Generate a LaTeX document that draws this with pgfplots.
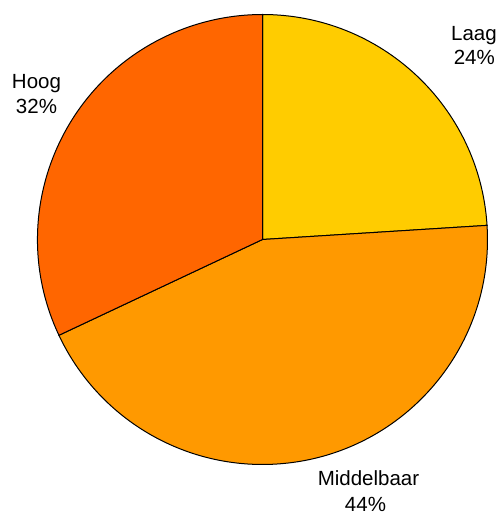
\documentclass[border=0pt]{standalone}
\usepackage{pgfplots}
\usepackage{pgfplotstable}
\pgfplotsset{compat=1.18}
\usepackage{fontspec}
\setmainfont{Liberation Sans}
\definecolor{laag}{HTML}{FFCC00}
\definecolor{midden}{HTML}{FF9900}
\definecolor{hoog}{HTML}{FF6600}

\pgfplotstableread{
label pct
Laag 24
Middelbaar 44
Hoog 32
}\piedata

% slice values and angles (clockwise from the top)
\pgfplotstablegetelem{0}{pct}\of\piedata \edef\pa{\pgfplotsretval}
\pgfplotstablegetelem{1}{pct}\of\piedata \edef\pb{\pgfplotsretval}
\pgfplotstablegetelem{2}{pct}\of\piedata \edef\pc{\pgfplotsretval}
\pgfmathsetmacro\angA{90-3.6*\pa}
\pgfmathsetmacro\angB{\angA-3.6*\pb}
\pgfmathsetmacro\angC{\angB-3.6*\pc}

\begin{document}
\begin{tikzpicture}[lbl/.style={inner sep=0pt, font=\fontsize{20.5}{24}\selectfont}]
\begin{axis}[
  name=pie,
  scale only axis,
  width=500pt, height=515pt,
  xmin=0, xmax=500, ymin=0, ymax=515,
  hide axis,
  clip=false,
]
\addplot[draw=none] coordinates {(0,0) (500,515)};
\filldraw[fill=laag, draw=black, line width=1pt]
  (axis cs:262.5,275.5) -- ++(90:225pt) arc[start angle=90, end angle=\angA, radius=225pt] -- cycle;
\filldraw[fill=midden, draw=black, line width=1pt]
  (axis cs:262.5,275.5) -- ++(\angA:225pt) arc[start angle=\angA, end angle=\angB, radius=225pt] -- cycle;
\filldraw[fill=hoog, draw=black, line width=1pt]
  (axis cs:262.5,275.5) -- ++(\angB:225pt) arc[start angle=\angB, end angle=\angC, radius=225pt] -- cycle;
\node[lbl, anchor=base east] at (axis cs:497,474.3) {Laag};
\node[lbl, anchor=base east] at (axis cs:495,450) {\pa\%};
\node[lbl, anchor=base] at (axis cs:36.5,426.7) {Hoog};
\node[lbl, anchor=base] at (axis cs:36.5,401.7) {\pc\%};
\node[lbl, anchor=base] at (axis cs:368.5,29) {Middelbaar};
\node[lbl, anchor=base] at (axis cs:365.5,3) {\pb\%};
\end{axis}
\pgfresetboundingbox
\path (pie.south west) rectangle ++(500pt,515pt);
\end{tikzpicture}
\end{document}
